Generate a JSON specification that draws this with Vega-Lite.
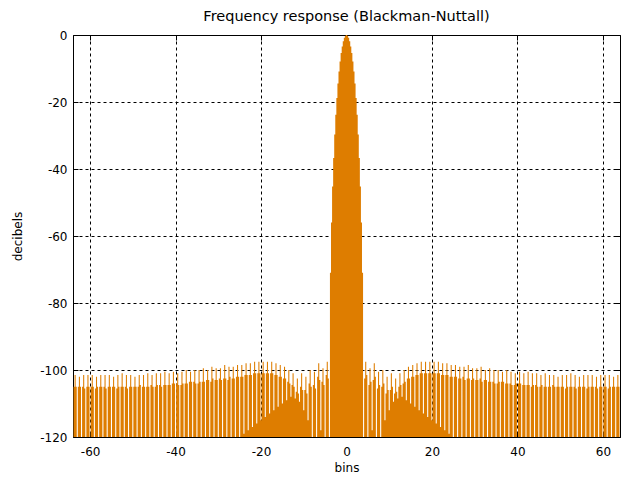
{
  "$schema": "https://vega.github.io/schema/vega-lite/v6.json",
  "width": 547,
  "height": 402,
  "autosize": {"type": "none"},
  "padding": {"left": 73, "top": 35, "right": 1, "bottom": 46},
  "background": "white",
  "title": {"text": "Frequency response (Blackman-Nuttall)", "font": "DejaVu Sans", "fontSize": 14.5, "fontWeight": "normal", "color": "black", "offset": 5},
  "config": {
    "view": {"stroke": "black", "strokeWidth": 1},
    "axis": {
      "domain": false,
      "ticks": true,
      "tickSize": -5,
      "tickColor": "black",
      "tickWidth": 1,
      "grid": true,
      "gridColor": "black",
      "gridDash": [3, 3],
      "gridOpacity": 1,
      "gridWidth": 1,
      "zindex": 1,
      "labelFont": "DejaVu Sans",
      "labelFontSize": 12,
      "labelColor": "black",
      "labelExpr": "'' + datum.value",
      "titleFont": "DejaVu Sans",
      "titleFontSize": 12,
      "titleFontWeight": "normal",
      "titleColor": "black"
    }
  },
  "resolve": {"axis": {"x": "independent", "y": "independent"}},
  "layer": [
    {
      "data": {"name": "spectrum"},
      "mark": {"type": "area", "interpolate": "step", "color": "#de7d00", "clip": true},
      "encoding": {
        "x": {
          "field": "bin",
          "type": "quantitative",
          "scale": {"domain": [-64, 64], "nice": false, "zero": false},
          "axis": {"values": [-60, -40, -20, 0, 20, 40, 60], "title": "bins", "labelPadding": 14, "titlePadding": 5}
        },
        "y": {
          "field": "db",
          "type": "quantitative",
          "scale": {"domain": [-120, 0], "nice": false, "zero": false},
          "axis": {"values": [-120, -100, -80, -60, -40, -20, 0], "title": "decibels", "labelPadding": 11, "titlePadding": 15}
        },
        "y2": {"datum": -120}
      }
    },
    {
      "data": {"name": "spectrum"},
      "mark": {"type": "point", "opacity": 0},
      "encoding": {
        "x": {
          "field": "bin",
          "type": "quantitative",
          "axis": {"orient": "top", "values": [-60, -40, -20, 0, 20, 40, 60], "title": null, "labels": false, "grid": false}
        },
        "y": {
          "field": "db",
          "type": "quantitative",
          "axis": {"orient": "right", "values": [-120, -100, -80, -60, -40, -20, 0], "title": null, "labels": false, "grid": false}
        }
      }
    }
  ],
  "datasets": {"spectrum": [
    {"bin":-64,"db":-130},
    {"bin":-63.75,"db":-105},{"bin":-63.5,"db":-101.5},{"bin":-63.25,"db":-105},{"bin":-63,"db":-130},
    {"bin":-62.75,"db":-105},{"bin":-62.5,"db":-102},{"bin":-62.25,"db":-105},{"bin":-62,"db":-130},
    {"bin":-61.75,"db":-105},{"bin":-61.5,"db":-101.5},{"bin":-61.25,"db":-105.5},{"bin":-61,"db":-130},
    {"bin":-60.75,"db":-105},{"bin":-60.5,"db":-101.5},{"bin":-60.25,"db":-105},{"bin":-60,"db":-130},
    {"bin":-59.75,"db":-105},{"bin":-59.5,"db":-101.5},{"bin":-59.25,"db":-105},{"bin":-59,"db":-130},
    {"bin":-58.75,"db":-105.5},{"bin":-58.5,"db":-102},{"bin":-58.25,"db":-105},{"bin":-58,"db":-130},
    {"bin":-57.75,"db":-105},{"bin":-57.5,"db":-101.5},{"bin":-57.25,"db":-105},{"bin":-57,"db":-130},
    {"bin":-56.75,"db":-105},{"bin":-56.5,"db":-101.5},{"bin":-56.25,"db":-105.5},{"bin":-56,"db":-130},
    {"bin":-55.75,"db":-105},{"bin":-55.5,"db":-101.5},{"bin":-55.25,"db":-105},{"bin":-55,"db":-130},
    {"bin":-54.75,"db":-105},{"bin":-54.5,"db":-102},{"bin":-54.25,"db":-105},{"bin":-54,"db":-130},
    {"bin":-53.75,"db":-105.5},{"bin":-53.5,"db":-101.5},{"bin":-53.25,"db":-105},{"bin":-53,"db":-130},
    {"bin":-52.75,"db":-105},{"bin":-52.5,"db":-101},{"bin":-52.25,"db":-105},{"bin":-52,"db":-130},
    {"bin":-51.75,"db":-105},{"bin":-51.5,"db":-101.5},{"bin":-51.25,"db":-105.5},{"bin":-51,"db":-130},
    {"bin":-50.75,"db":-105},{"bin":-50.5,"db":-101.5},{"bin":-50.25,"db":-105},{"bin":-50,"db":-130},
    {"bin":-49.75,"db":-105},{"bin":-49.5,"db":-102},{"bin":-49.25,"db":-105},{"bin":-49,"db":-130},
    {"bin":-48.75,"db":-105},{"bin":-48.5,"db":-101.5},{"bin":-48.25,"db":-104.5},{"bin":-48,"db":-130},
    {"bin":-47.75,"db":-105},{"bin":-47.5,"db":-101.5},{"bin":-47.25,"db":-105},{"bin":-47,"db":-130},
    {"bin":-46.75,"db":-105},{"bin":-46.5,"db":-101},{"bin":-46.25,"db":-105},{"bin":-46,"db":-130},
    {"bin":-45.75,"db":-104.5},{"bin":-45.5,"db":-101.5},{"bin":-45.25,"db":-105},{"bin":-45,"db":-130},
    {"bin":-44.75,"db":-105},{"bin":-44.5,"db":-101},{"bin":-44.25,"db":-104.5},{"bin":-44,"db":-130},
    {"bin":-43.75,"db":-104.5},{"bin":-43.5,"db":-101},{"bin":-43.25,"db":-105},{"bin":-43,"db":-130},
    {"bin":-42.75,"db":-104.5},{"bin":-42.5,"db":-100.5},{"bin":-42.25,"db":-104.5},{"bin":-42,"db":-130},
    {"bin":-41.75,"db":-104.5},{"bin":-41.5,"db":-101},{"bin":-41.25,"db":-104.5},{"bin":-41,"db":-130},
    {"bin":-40.75,"db":-104},{"bin":-40.5,"db":-100.5},{"bin":-40.25,"db":-104},{"bin":-40,"db":-130},
    {"bin":-39.75,"db":-104},{"bin":-39.5,"db":-101},{"bin":-39.25,"db":-104.5},{"bin":-39,"db":-130},
    {"bin":-38.75,"db":-104.5},{"bin":-38.5,"db":-100.5},{"bin":-38.25,"db":-104},{"bin":-38,"db":-130},
    {"bin":-37.75,"db":-104},{"bin":-37.5,"db":-100},{"bin":-37.25,"db":-104},{"bin":-37,"db":-130},
    {"bin":-36.75,"db":-103.5},{"bin":-36.5,"db":-100.5},{"bin":-36.25,"db":-103.5},{"bin":-36,"db":-130},
    {"bin":-35.75,"db":-103.5},{"bin":-35.5,"db":-100},{"bin":-35.25,"db":-104},{"bin":-35,"db":-130},
    {"bin":-34.75,"db":-104},{"bin":-34.5,"db":-100},{"bin":-34.25,"db":-103.5},{"bin":-34,"db":-130},
    {"bin":-33.75,"db":-103.5},{"bin":-33.5,"db":-99.5},{"bin":-33.25,"db":-103.5},{"bin":-33,"db":-130},
    {"bin":-32.75,"db":-103},{"bin":-32.5,"db":-100},{"bin":-32.25,"db":-103},{"bin":-32,"db":-130},
    {"bin":-31.75,"db":-103.5},{"bin":-31.5,"db":-99},{"bin":-31.25,"db":-102.5},{"bin":-31,"db":-130},
    {"bin":-30.75,"db":-103},{"bin":-30.5,"db":-99.5},{"bin":-30.25,"db":-103},{"bin":-30,"db":-130},
    {"bin":-29.75,"db":-102.5},{"bin":-29.5,"db":-99.5},{"bin":-29.25,"db":-103},{"bin":-29,"db":-130},
    {"bin":-28.75,"db":-102.5},{"bin":-28.5,"db":-98.5},{"bin":-28.25,"db":-102.5},{"bin":-28,"db":-130},
    {"bin":-27.75,"db":-103},{"bin":-27.5,"db":-99},{"bin":-27.25,"db":-102},{"bin":-27,"db":-130},
    {"bin":-26.75,"db":-102.5},{"bin":-26.5,"db":-99},{"bin":-26.25,"db":-102.5},{"bin":-26,"db":-121},
    {"bin":-25.75,"db":-102},{"bin":-25.5,"db":-98.5},{"bin":-25.25,"db":-102},{"bin":-25,"db":-120},
    {"bin":-24.75,"db":-102},{"bin":-24.5,"db":-98.5},{"bin":-24.25,"db":-102},{"bin":-24,"db":-119},
    {"bin":-23.75,"db":-101.5},{"bin":-23.5,"db":-98},{"bin":-23.25,"db":-101.5},{"bin":-23,"db":-118},
    {"bin":-22.75,"db":-101.5},{"bin":-22.5,"db":-98},{"bin":-22.25,"db":-101.5},{"bin":-22,"db":-117},
    {"bin":-21.75,"db":-101},{"bin":-21.5,"db":-97.5},{"bin":-21.25,"db":-101},{"bin":-21,"db":-116},
    {"bin":-20.75,"db":-101},{"bin":-20.5,"db":-97.5},{"bin":-20.25,"db":-101},{"bin":-20,"db":-115},
    {"bin":-19.75,"db":-101},{"bin":-19.5,"db":-97.5},{"bin":-19.25,"db":-101},{"bin":-19,"db":-114},
    {"bin":-18.75,"db":-101},{"bin":-18.5,"db":-97.5},{"bin":-18.25,"db":-101},{"bin":-18,"db":-113},
    {"bin":-17.75,"db":-101},{"bin":-17.5,"db":-97.5},{"bin":-17.25,"db":-101},{"bin":-17,"db":-112},
    {"bin":-16.75,"db":-101.5},{"bin":-16.5,"db":-98},{"bin":-16.25,"db":-101.5},{"bin":-16,"db":-111},
    {"bin":-15.75,"db":-102},{"bin":-15.5,"db":-98.5},{"bin":-15.25,"db":-102},{"bin":-15,"db":-110},
    {"bin":-14.75,"db":-102.5},{"bin":-14.5,"db":-99},{"bin":-14.25,"db":-102.5},{"bin":-14,"db":-109},
    {"bin":-13.75,"db":-103.5},{"bin":-13.5,"db":-100},{"bin":-13.25,"db":-104},{"bin":-13,"db":-108},
    {"bin":-12.75,"db":-104.5},{"bin":-12.5,"db":-101},{"bin":-12.25,"db":-105},{"bin":-12,"db":-108.5},
    {"bin":-11.75,"db":-106.5},{"bin":-11.5,"db":-102.5},{"bin":-11.25,"db":-107},{"bin":-11,"db":-109.5},
    {"bin":-10.75,"db":-105},{"bin":-10.5,"db":-101},{"bin":-10.25,"db":-106},{"bin":-10,"db":-112},
    {"bin":-9.75,"db":-106},{"bin":-9.5,"db":-102},{"bin":-9.25,"db":-107},{"bin":-9,"db":-115},
    {"bin":-8.75,"db":-104},{"bin":-8.5,"db":-100},{"bin":-8.25,"db":-105},{"bin":-8,"db":-125},
    {"bin":-7.75,"db":-104.5},{"bin":-7.5,"db":-100.5},{"bin":-7.25,"db":-105.5},{"bin":-7,"db":-122},
    {"bin":-6.75,"db":-102},{"bin":-6.5,"db":-98},{"bin":-6.25,"db":-103},{"bin":-6,"db":-118},
    {"bin":-5.75,"db":-103.5},{"bin":-5.5,"db":-99.5},{"bin":-5.25,"db":-104.5},{"bin":-5,"db":-125},
    {"bin":-4.75,"db":-101.5},{"bin":-4.5,"db":-97.5},{"bin":-4.25,"db":-102.5},{"bin":-4,"db":-130},
    {"bin":-3.75,"db":-71},{"bin":-3.5,"db":-56},{"bin":-3.25,"db":-45.2},{"bin":-3,"db":-36.7},
    {"bin":-2.75,"db":-29.7},{"bin":-2.5,"db":-23.8},{"bin":-2.25,"db":-18.8},{"bin":-2,"db":-14.5},
    {"bin":-1.75,"db":-10.9},{"bin":-1.5,"db":-7.9},{"bin":-1.25,"db":-5.4},{"bin":-1,"db":-3.4},
    {"bin":-0.75,"db":-1.9},{"bin":-0.5,"db":-0.85},{"bin":-0.25,"db":-0.2},
    {"bin":0,"db":0},
    {"bin":0.25,"db":-0.2},{"bin":0.5,"db":-0.85},{"bin":0.75,"db":-1.9},{"bin":1,"db":-3.4},
    {"bin":1.25,"db":-5.4},{"bin":1.5,"db":-7.9},{"bin":1.75,"db":-10.9},{"bin":2,"db":-14.5},
    {"bin":2.25,"db":-18.8},{"bin":2.5,"db":-23.8},{"bin":2.75,"db":-29.7},{"bin":3,"db":-36.7},
    {"bin":3.25,"db":-45.2},{"bin":3.5,"db":-56},{"bin":3.75,"db":-71},{"bin":4,"db":-130},
    {"bin":4.25,"db":-102.5},{"bin":4.5,"db":-97.5},{"bin":4.75,"db":-101.5},{"bin":5,"db":-125},
    {"bin":5.25,"db":-104.5},{"bin":5.5,"db":-99.5},{"bin":5.75,"db":-103.5},{"bin":6,"db":-118},
    {"bin":6.25,"db":-103},{"bin":6.5,"db":-98},{"bin":6.75,"db":-102},{"bin":7,"db":-122},
    {"bin":7.25,"db":-105.5},{"bin":7.5,"db":-100.5},{"bin":7.75,"db":-104.5},{"bin":8,"db":-125},
    {"bin":8.25,"db":-105},{"bin":8.5,"db":-100},{"bin":8.75,"db":-104},{"bin":9,"db":-115},
    {"bin":9.25,"db":-107},{"bin":9.5,"db":-102},{"bin":9.75,"db":-106},{"bin":10,"db":-112},
    {"bin":10.25,"db":-106},{"bin":10.5,"db":-101},{"bin":10.75,"db":-105},{"bin":11,"db":-109.5},
    {"bin":11.25,"db":-107},{"bin":11.5,"db":-102.5},{"bin":11.75,"db":-106.5},{"bin":12,"db":-108.5},
    {"bin":12.25,"db":-105},{"bin":12.5,"db":-101},{"bin":12.75,"db":-104.5},{"bin":13,"db":-108},
    {"bin":13.25,"db":-104},{"bin":13.5,"db":-100},{"bin":13.75,"db":-103.5},{"bin":14,"db":-109},
    {"bin":14.25,"db":-102.5},{"bin":14.5,"db":-99},{"bin":14.75,"db":-102.5},{"bin":15,"db":-110},
    {"bin":15.25,"db":-102},{"bin":15.5,"db":-98.5},{"bin":15.75,"db":-102},{"bin":16,"db":-111},
    {"bin":16.25,"db":-101.5},{"bin":16.5,"db":-98},{"bin":16.75,"db":-101.5},{"bin":17,"db":-112},
    {"bin":17.25,"db":-101},{"bin":17.5,"db":-97.5},{"bin":17.75,"db":-101},{"bin":18,"db":-113},
    {"bin":18.25,"db":-101},{"bin":18.5,"db":-97.5},{"bin":18.75,"db":-101},{"bin":19,"db":-114},
    {"bin":19.25,"db":-101},{"bin":19.5,"db":-97.5},{"bin":19.75,"db":-101},{"bin":20,"db":-115},
    {"bin":20.25,"db":-101},{"bin":20.5,"db":-97.5},{"bin":20.75,"db":-101},{"bin":21,"db":-116},
    {"bin":21.25,"db":-101},{"bin":21.5,"db":-97.5},{"bin":21.75,"db":-101},{"bin":22,"db":-117},
    {"bin":22.25,"db":-101.5},{"bin":22.5,"db":-98},{"bin":22.75,"db":-101.5},{"bin":23,"db":-118},
    {"bin":23.25,"db":-101.5},{"bin":23.5,"db":-98},{"bin":23.75,"db":-101.5},{"bin":24,"db":-119},
    {"bin":24.25,"db":-102},{"bin":24.5,"db":-98.5},{"bin":24.75,"db":-102},{"bin":25,"db":-120},
    {"bin":25.25,"db":-102},{"bin":25.5,"db":-98.5},{"bin":25.75,"db":-102},{"bin":26,"db":-121},
    {"bin":26.25,"db":-102.5},{"bin":26.5,"db":-99},{"bin":26.75,"db":-102.5},{"bin":27,"db":-130},
    {"bin":27.25,"db":-102},{"bin":27.5,"db":-99},{"bin":27.75,"db":-103},{"bin":28,"db":-130},
    {"bin":28.25,"db":-102.5},{"bin":28.5,"db":-98.5},{"bin":28.75,"db":-102.5},{"bin":29,"db":-130},
    {"bin":29.25,"db":-103},{"bin":29.5,"db":-99.5},{"bin":29.75,"db":-102.5},{"bin":30,"db":-130},
    {"bin":30.25,"db":-103},{"bin":30.5,"db":-99.5},{"bin":30.75,"db":-103},{"bin":31,"db":-130},
    {"bin":31.25,"db":-102.5},{"bin":31.5,"db":-99},{"bin":31.75,"db":-103.5},{"bin":32,"db":-130},
    {"bin":32.25,"db":-103},{"bin":32.5,"db":-100},{"bin":32.75,"db":-103},{"bin":33,"db":-130},
    {"bin":33.25,"db":-103.5},{"bin":33.5,"db":-99.5},{"bin":33.75,"db":-103.5},{"bin":34,"db":-130},
    {"bin":34.25,"db":-103.5},{"bin":34.5,"db":-100},{"bin":34.75,"db":-104},{"bin":35,"db":-130},
    {"bin":35.25,"db":-104},{"bin":35.5,"db":-100},{"bin":35.75,"db":-103.5},{"bin":36,"db":-130},
    {"bin":36.25,"db":-103.5},{"bin":36.5,"db":-100.5},{"bin":36.75,"db":-103.5},{"bin":37,"db":-130},
    {"bin":37.25,"db":-104},{"bin":37.5,"db":-100},{"bin":37.75,"db":-104},{"bin":38,"db":-130},
    {"bin":38.25,"db":-104},{"bin":38.5,"db":-100.5},{"bin":38.75,"db":-104.5},{"bin":39,"db":-130},
    {"bin":39.25,"db":-104.5},{"bin":39.5,"db":-101},{"bin":39.75,"db":-104},{"bin":40,"db":-130},
    {"bin":40.25,"db":-104},{"bin":40.5,"db":-100.5},{"bin":40.75,"db":-104},{"bin":41,"db":-130},
    {"bin":41.25,"db":-104.5},{"bin":41.5,"db":-101},{"bin":41.75,"db":-104.5},{"bin":42,"db":-130},
    {"bin":42.25,"db":-104.5},{"bin":42.5,"db":-100.5},{"bin":42.75,"db":-104.5},{"bin":43,"db":-130},
    {"bin":43.25,"db":-105},{"bin":43.5,"db":-101},{"bin":43.75,"db":-104.5},{"bin":44,"db":-130},
    {"bin":44.25,"db":-104.5},{"bin":44.5,"db":-101},{"bin":44.75,"db":-105},{"bin":45,"db":-130},
    {"bin":45.25,"db":-105},{"bin":45.5,"db":-101.5},{"bin":45.75,"db":-104.5},{"bin":46,"db":-130},
    {"bin":46.25,"db":-105},{"bin":46.5,"db":-101},{"bin":46.75,"db":-105},{"bin":47,"db":-130},
    {"bin":47.25,"db":-105},{"bin":47.5,"db":-101.5},{"bin":47.75,"db":-105},{"bin":48,"db":-130},
    {"bin":48.25,"db":-104.5},{"bin":48.5,"db":-101.5},{"bin":48.75,"db":-105},{"bin":49,"db":-130},
    {"bin":49.25,"db":-105},{"bin":49.5,"db":-102},{"bin":49.75,"db":-105},{"bin":50,"db":-130},
    {"bin":50.25,"db":-105},{"bin":50.5,"db":-101.5},{"bin":50.75,"db":-105},{"bin":51,"db":-130},
    {"bin":51.25,"db":-105.5},{"bin":51.5,"db":-101.5},{"bin":51.75,"db":-105},{"bin":52,"db":-130},
    {"bin":52.25,"db":-105},{"bin":52.5,"db":-101},{"bin":52.75,"db":-105},{"bin":53,"db":-130},
    {"bin":53.25,"db":-105},{"bin":53.5,"db":-101.5},{"bin":53.75,"db":-105.5},{"bin":54,"db":-130},
    {"bin":54.25,"db":-105},{"bin":54.5,"db":-102},{"bin":54.75,"db":-105},{"bin":55,"db":-130},
    {"bin":55.25,"db":-105},{"bin":55.5,"db":-101.5},{"bin":55.75,"db":-105},{"bin":56,"db":-130},
    {"bin":56.25,"db":-105.5},{"bin":56.5,"db":-101.5},{"bin":56.75,"db":-105},{"bin":57,"db":-130},
    {"bin":57.25,"db":-105},{"bin":57.5,"db":-101.5},{"bin":57.75,"db":-105},{"bin":58,"db":-130},
    {"bin":58.25,"db":-105},{"bin":58.5,"db":-102},{"bin":58.75,"db":-105.5},{"bin":59,"db":-130},
    {"bin":59.25,"db":-105},{"bin":59.5,"db":-101.5},{"bin":59.75,"db":-105},{"bin":60,"db":-130},
    {"bin":60.25,"db":-105},{"bin":60.5,"db":-101.5},{"bin":60.75,"db":-105},{"bin":61,"db":-130},
    {"bin":61.25,"db":-105.5},{"bin":61.5,"db":-101.5},{"bin":61.75,"db":-105},{"bin":62,"db":-130},
    {"bin":62.25,"db":-105},{"bin":62.5,"db":-102},{"bin":62.75,"db":-105},{"bin":63,"db":-130},
    {"bin":63.25,"db":-105},{"bin":63.5,"db":-101.5},{"bin":63.75,"db":-105},{"bin":64,"db":-130}
  ]}
}
